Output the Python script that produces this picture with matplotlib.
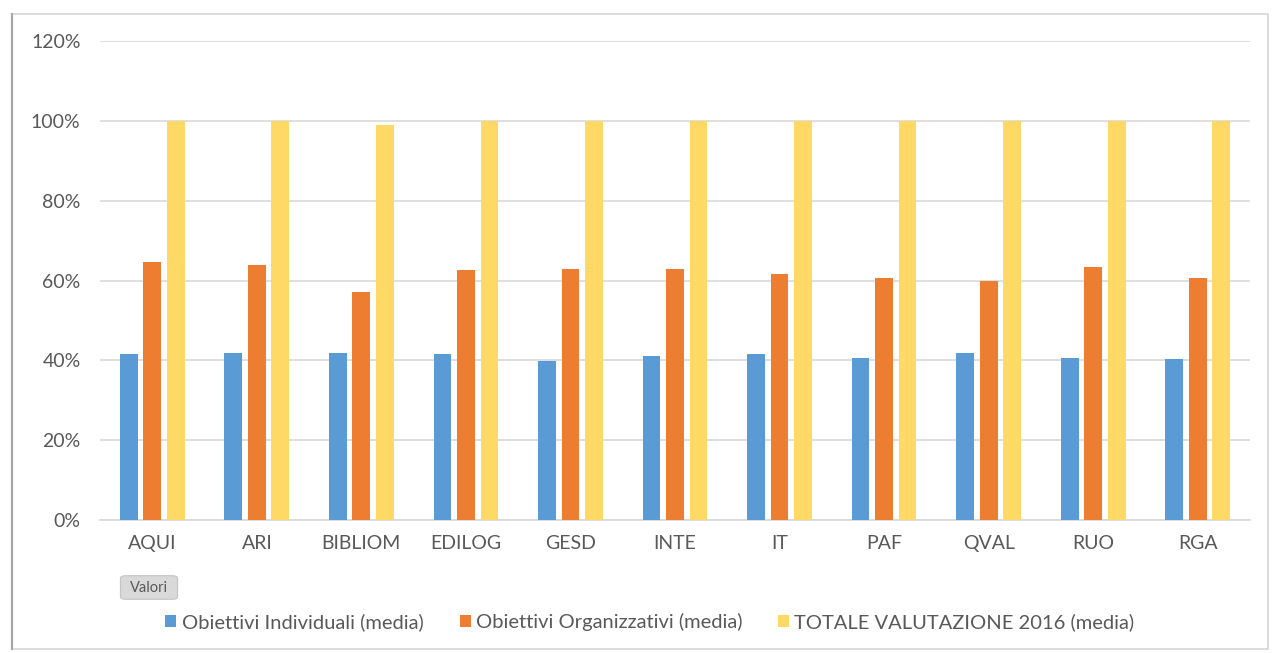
import matplotlib.pyplot as plt
import numpy as np
from matplotlib.patches import FancyBboxPatch, Rectangle

plt.rcParams['font.family'] = ['Lato', 'DejaVu Sans']

categories = ['AQUI', 'ARI', 'BIBLIOM', 'EDILOG', 'GESD', 'INTE', 'IT', 'PAF', 'QVAL', 'RUO', 'RGA']
individuali = [41.7, 41.9, 41.9, 41.6, 39.8, 41.2, 41.7, 40.5, 41.9, 40.5, 40.3]
organizzativi = [64.7, 63.9, 57.1, 62.7, 62.8, 62.8, 61.6, 60.6, 60.0, 63.4, 60.6]
totale = [100, 100, 98.9, 100, 100, 100, 100, 100, 100, 100, 100]
series_names = ['Obiettivi Individuali (media)', 'Obiettivi Organizzativi (media)',
                'TOTALE VALUTAZIONE 2016 (media)']
colors = ['#5b9bd5', '#ed7d31', '#ffd966']
text_color = '#595959'

fig = plt.figure(figsize=(12.74, 6.53), dpi=100)
fig.patch.set_facecolor('white')

# outer chart frame, with a darker left edge
fig.patches.append(Rectangle((12 / 1274, 4 / 653), 1256 / 1274, 635 / 653,
                             transform=fig.transFigure, fill=False,
                             edgecolor='#d6d6d6', linewidth=1.2))
fig.add_artist(plt.Line2D([12 / 1274, 12 / 1274], [4 / 653, 639 / 653],
                          transform=fig.transFigure, color='#a8a8a8', linewidth=1.6))

ax = fig.add_axes([100 / 1274, 133 / 653, 1150 / 1274, 479 / 653])
x = np.arange(len(categories))
w = 0.17
off = 0.225
for i, (vals, c) in enumerate(zip([individuali, organizzativi, totale], colors)):
    ax.bar(x + (i - 1) * off, vals, width=w, color=c, label=series_names[i], zorder=3)

ax.set_xlim(-0.5, len(categories) - 0.5)
ax.set_ylim(0, 120)
ax.set_yticks(np.arange(0, 121, 20))
ax.set_yticklabels([f'{v}%' for v in range(0, 121, 20)])
ax.set_xticks(x)
ax.set_xticklabels(categories)
ax.yaxis.grid(True, color='#d9d9d9', linewidth=1.2, zorder=0)
for s in ['left', 'right', 'top']:
    ax.spines[s].set_visible(False)
ax.spines['bottom'].set_color('#d9d9d9')
ax.spines['bottom'].set_linewidth(1.2)
ax.tick_params(axis='both', length=0, colors=text_color, labelsize=14)
ax.tick_params(axis='y', pad=14)
ax.tick_params(axis='x', pad=11)

# "Valori" field button
btn = FancyBboxPatch((123 / 1274, 55 / 653), 52 / 1274, 21 / 653,
                     boxstyle='round,pad=0.002,rounding_size=0.004',
                     transform=fig.transFigure, facecolor='#d9d9d9',
                     edgecolor='#c4c4c4', linewidth=0.8)
fig.patches.append(btn)
fig.text(149 / 1274, 65.5 / 653, 'Valori', ha='center', va='center',
         fontsize=10.5, color=text_color)

fig.legend(loc='center', bbox_to_anchor=(650 / 1274, 31 / 653), ncol=3,
           frameon=False, fontsize=14.5, labelcolor=text_color,
           handlelength=0.55, handleheight=0.55, handletextpad=0.25,
           columnspacing=1.8)

fig.savefig('out.png', dpi=100)
